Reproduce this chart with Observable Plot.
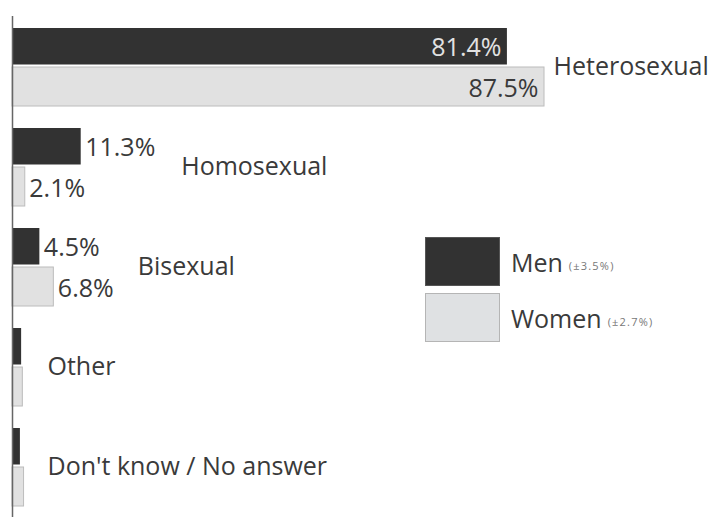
<!DOCTYPE html>
<html>
<head>
<meta charset="utf-8">
<script src="https://cdn.jsdelivr.net/npm/d3@7"></script>
<script src="https://cdn.jsdelivr.net/npm/@observablehq/plot@0.6"></script>
<style>
  html, body { margin: 0; padding: 0; background: #fff; }
  #wrap { position: relative; width: 709px; height: 517px; font-family: "Open Sans", sans-serif; color: #3a3a3a; }
  #legend { position: absolute; left: 425px; top: 236px; }
  .row { display: flex; align-items: center; height: 50px; margin-bottom: 6px; }
  .sw { width: 75px; height: 49px; box-sizing: border-box; margin-right: 11px; }
  .lab { font-size: 25px; position: relative; top: 1px; }
  .moe { font-size: 11px; color: #777; margin-left: 6px; letter-spacing: 1.2px; position: relative; top: 4px; }
</style>
</head>
<body>
<div id="wrap"></div>
<script>
const categories = ["Heterosexual", "Homosexual", "Bisexual", "Other", "Don't know / No answer"];
const menValues = [81.4, 11.3, 4.5, 1.5, 1.3];
const womenValues = [87.5, 2.1, 6.8, 1.7, 1.9];
const labeledCategories = ["Heterosexual", "Homosexual", "Bisexual"];
const seriesNames = ["Men", "Women"];
const seriesMargins = ["(±3.5%)", "(±2.7%)"];

const rows = categories.map((c, i) => ({category: c, men: menValues[i], women: womenValues[i]}));
const fmt = v => d3.format(".1f")(v) + "%";

const MEN = "#323232", WOMEN = "#e1e1e1", WOMEN_STROKE = "#bcbcbc", TEXT = "#3a3a3a";
const FS = 25;

// label offsets (pixels) for category names, relative to the longer bar of each group
const catDx = {"Heterosexual": 9, "Homosexual": 100, "Bisexual": 84, "Other": 35, "Don't know / No answer": 35};

const inside = d => d.category === "Heterosexual";
const labeled = d => labeledCategories.includes(d.category);

const chart = Plot.plot({
  width: 709,
  height: 517,
  marginLeft: 12,
  marginRight: 89,
  marginTop: 16,
  marginBottom: 0,
  x: {domain: [0, 100], axis: null},
  y: {domain: categories, axis: null, paddingInner: 0.224, paddingOuter: 0.112},
  style: {fontFamily: "'Open Sans', sans-serif", color: TEXT, background: "white"},
  marks: [
    Plot.barX(rows, {y: "category", x: "men", fill: MEN, insetBottom: 41.5}),
    Plot.barX(rows, {y: "category", x: "women", fill: WOMEN, stroke: WOMEN_STROKE, strokeWidth: 1, insetTop: 39}),
    Plot.ruleX([0], {stroke: "#666", strokeWidth: 1.5}),
    // value labels inside bars
    Plot.text(rows.filter(inside), {y: "category", x: "men", text: d => fmt(d.men), textAnchor: "end", dx: -6, dy: -19.5, fill: "#e2e2e2", fontSize: FS}),
    Plot.text(rows.filter(inside), {y: "category", x: "women", text: d => fmt(d.women), textAnchor: "end", dx: -6, dy: 21, fill: TEXT, fontSize: FS}),
    // value labels outside bars
    Plot.text(rows.filter(d => labeled(d) && !inside(d)), {y: "category", x: "men", text: d => fmt(d.men), textAnchor: "start", dx: 4, dy: -19.5, fill: TEXT, fontSize: FS}),
    Plot.text(rows.filter(d => labeled(d) && !inside(d)), {y: "category", x: "women", text: d => fmt(d.women), textAnchor: "start", dx: 4, dy: 21, fill: TEXT, fontSize: FS}),
    // category names
    ...categories.map(c => Plot.text(rows.filter(d => d.category === c), {
      y: "category",
      x: d => (labeled(d) ? Math.max(d.men, d.women) : 0),
      text: "category",
      textAnchor: "start",
      dx: catDx[c],
      dy: -1,
      fill: TEXT,
      fontSize: FS
    }))
  ]
});

const wrap = document.getElementById("wrap");
wrap.appendChild(chart);

const legend = document.createElement("div");
legend.id = "legend";
const fills = [MEN, "#dfe1e3"];
const strokes = ["#555", "#b5b5b5"];
seriesNames.forEach((name, i) => {
  const row = document.createElement("div");
  row.className = "row";
  const sw = document.createElement("div");
  sw.className = "sw";
  sw.style.background = fills[i];
  sw.style.border = "1px solid " + strokes[i];
  const lab = document.createElement("span");
  lab.className = "lab";
  lab.textContent = name;
  const moe = document.createElement("span");
  moe.className = "moe";
  moe.textContent = seriesMargins[i];
  row.appendChild(sw);
  row.appendChild(lab);
  row.appendChild(moe);
  legend.appendChild(row);
});
wrap.appendChild(legend);
</script>
</body>
</html>
